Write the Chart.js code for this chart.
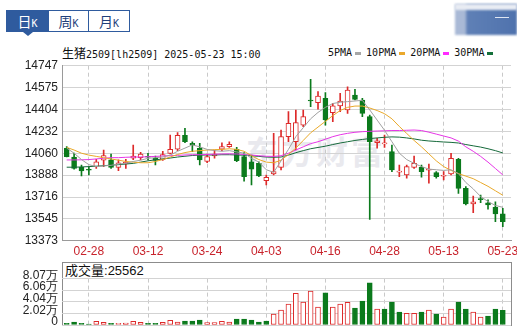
<!DOCTYPE html>
<html><head><meta charset="utf-8">
<script src="https://cdn.jsdelivr.net/npm/chart.js@4/dist/chart.umd.min.js"></script>
<style>
html,body{margin:0;padding:0;background:#fff;}
body{width:517px;height:332px;position:relative;overflow:hidden;font-family:"Liberation Sans",Arial,sans-serif;}
.abs{position:absolute;}
.tab{position:absolute;top:10px;height:20px;border:1px solid #2f5b9e;box-sizing:content-box;text-align:center;line-height:20px;color:#1f3f7a;}
.tab .c{font-family:"Noto Sans CJK SC",sans-serif;font-size:14px;}
.tab .k{font-family:"DejaVu Sans Mono",monospace;font-size:10px;}
.mono{font-family:"DejaVu Sans Mono","Liberation Mono",monospace;font-size:10px;color:#111;}
.cjk{font-family:"Noto Sans CJK SC",sans-serif;font-size:12px;}
.sw{display:inline-block;width:6px;height:3px;vertical-align:middle;margin:0 5px 0 3px;}
canvas{position:absolute;left:0;}
</style></head><body>

<div class="tab" style="left:6px;width:41px;background:#2f5b9e;color:#fff;"><span class="c">日</span><span class="k">K</span></div>
<div class="tab" style="left:48px;width:39px;"><span class="c">周</span><span class="k">K</span></div>
<div class="tab" style="left:88px;width:40px;"><span class="c">月</span><span class="k">K</span></div>
<div class="abs" style="left:23px;top:32px;width:0;height:0;border-left:5px solid transparent;border-right:5px solid transparent;border-top:4px solid #2f5b9e;"></div>

<div class="abs" style="left:455px;top:4px;width:62px;height:31px;filter:blur(1px);background:linear-gradient(90deg,#a9b9d6 0%,#a9b9d6 16%,#5f80b6 20%,#4f72ad 100%);"></div>
<div class="abs" style="left:455px;top:4px;width:62px;height:6px;background:#e8ecf3;filter:blur(1px);"></div>
<div class="abs" style="left:495px;top:17px;width:14px;height:1px;background:#dfe6f2;"></div>

<div class="abs mono" style="left:62px;top:46px;line-height:13px;white-space:nowrap;"><span class="cjk">生猪</span>2509[lh2509] 2025-05-23 15:00</div>
<div class="abs mono" style="left:328px;top:46px;line-height:13px;white-space:nowrap;">5PMA<span class="sw" style="background:#a6a6a6"></span>10PMA<span class="sw" style="background:#eaa82c"></span>20PMA<span class="sw" style="background:#ff2bff"></span>30PMA<span class="sw" style="background:#14703a"></span></div>

<div class="abs" style="left:246px;top:127px;font-family:'Noto Sans CJK SC',sans-serif;font-weight:bold;font-size:32px;letter-spacing:3px;color:#e9e9ee;white-space:nowrap;">东方财富</div>

<div class="abs" style="left:62px;top:262px;width:448px;height:62px;border:1px solid #8c8c8c;"></div>
<div class="abs" style="left:62px;top:278px;width:449px;height:1px;background:#8c8c8c;"></div>
<div class="abs" style="left:65px;top:262px;line-height:16px;font-size:13px;color:#111;white-space:nowrap;"><span style="font-family:'Noto Sans CJK SC',sans-serif;">成交量</span>:25562</div>

<canvas id="main" width="517" height="260" style="top:0;"></canvas>
<canvas id="vol" width="517" height="77" style="top:255px;"></canvas>

<script>
// ---- data ----
const dates = ['02-25','02-26','02-27','02-28','03-03','03-04','03-05','03-06','03-07','03-10','03-11','03-12','03-13','03-14','03-17','03-18','03-19','03-20','03-21','03-24','03-25','03-26','03-27','03-28','03-31','04-01','04-02','04-03','04-07','04-08','04-09','04-10','04-11','04-14','04-15','04-16','04-17','04-18','04-21','04-22','04-23','04-24','04-25','04-28','04-29','04-30','05-06','05-07','05-08','05-09','05-12','05-13','05-14','05-15','05-16','05-19','05-20','05-21','05-22','05-23'];
const xTickLabels = ['02-28','03-12','03-24','04-03','04-16','04-28','05-13','05-23'];
const yTicks = [13373,13545,13716,13888,14060,14232,14404,14575,14747];
const volTicks = [0,20200,40400,60600,80700];
const volTickLabels = ['0','2.02万','4.04万','6.06万','8.07万'];

const open  = [14099,14030,13949,13930,13954,14005,14007,13949,13975,14020,14025,14033,14020,14012,14059,14091,14201,14138,14099,13995,14038,14091,14111,14091,14033,13993,13981,13844,13897,13949,14190,14150,14281,14475,14456,14491,14378,14431,14399,14517,14478,14347,14142,14132,14072,13912,13889,13949,13949,13926,13907,13879,13897,14012,13784,13661,13700,13671,13635,13583];
const high  = [14111,14060,13967,13954,14012,14085,14054,14007,14012,14124,14067,14059,14038,14075,14203,14221,14255,14150,14138,14054,14085,14142,14150,14106,14064,14046,13993,13889,14216,14242,14386,14399,14399,14640,14543,14535,14452,14530,14582,14562,14491,14360,14177,14203,14124,13967,13967,14038,13967,13975,13915,13915,14059,14020,13797,13724,13732,13693,13679,13627];
const low   = [14030,13934,13881,13889,13941,13954,13941,13923,13941,14010,14007,14007,13967,14004,14054,14080,14142,14072,13967,13985,14020,14080,14106,13993,13840,13810,13875,13810,13889,13928,14150,14085,14268,14425,14405,14281,14307,14386,14373,14478,14347,13541,14099,14106,13915,13875,13863,13941,13871,13824,13863,13850,13889,13745,13653,13593,13671,13620,13522,13483];
const close = [14033,13940,13920,13926,13993,14042,13949,13985,13991,14038,14054,14028,14003,14050,14091,14201,14150,14124,14007,14033,14054,14111,14130,14001,13875,13934,13881,13871,13915,14190,14295,14300,14347,14470,14509,14321,14431,14470,14556,14483,14373,14150,14158,14142,13928,13915,13954,13981,13915,13930,13875,13883,14020,13784,13661,13679,13696,13653,13583,13522];

const ma5  = [14100,14060,14010,13970,13955,13960,13965,13975,13980,13995,14005,14020,14025,14030,14045,14075,14100,14125,14110,14090,14080,14075,14080,14070,14060,14020,13990,13930,13910,14000,14090,14190,14260,14330,14380,14420,14450,14460,14465,14470,14475,14400,14320,14240,14150,14060,14010,13980,13955,13935,13930,13925,13930,13900,13830,13780,13720,13680,13650,13635];
const ma10 = [14106,14085,14060,14045,14035,14025,14015,14005,13995,13990,13985,13985,13995,14010,14030,14050,14065,14075,14080,14085,14088,14090,14095,14090,14075,14040,14010,13990,13985,14005,14050,14100,14160,14220,14265,14310,14355,14395,14420,14430,14430,14415,14395,14370,14330,14270,14215,14160,14110,14055,14000,13955,13925,13900,13880,13860,13830,13800,13765,13730];
const ma20 = [14007,14007,14008,14010,14015,14020,14025,14025,14028,14030,14030,14032,14035,14038,14040,14043,14046,14048,14048,14050,14052,14054,14055,14054,14050,14046,14040,14036,14035,14040,14060,14085,14110,14135,14150,14170,14190,14205,14216,14224,14229,14232,14234,14236,14238,14238,14240,14242,14238,14225,14210,14195,14180,14155,14110,14075,14035,13990,13940,13890];
const ma30 = [13950,13950,13952,13955,13958,13962,13966,13970,13975,13980,13990,14000,14008,14015,14022,14030,14036,14042,14045,14046,14046,14048,14048,14046,14044,14040,14035,14030,14028,14030,14045,14064,14080,14095,14105,14115,14128,14140,14150,14160,14168,14175,14180,14185,14188,14186,14180,14172,14162,14156,14152,14148,14145,14140,14128,14118,14108,14095,14080,14062];

const volume = [2960,5220,2960,1740,6440,4700,2960,2960,3480,6440,4700,2960,2960,4700,8180,5220,6960,6960,8700,4000,4000,6440,5220,10450,10450,8700,5220,6960,18800,26100,36200,55200,39700,58800,31000,56000,31000,36200,39500,29600,41800,73500,27500,27500,40000,22600,20400,20400,22600,26100,19150,13600,27500,40000,27900,22300,13600,15700,27900,25562];
const volUp  = [0,0,0,0,1,1,0,1,1,1,1,0,0,1,1,1,0,0,0,1,1,1,1,0,0,0,0,0,1,1,1,1,1,1,1,0,1,1,1,0,0,0,1,0,0,0,1,1,0,1,0,1,1,0,0,1,1,0,0,0];

// ---- styling ----
const RED = '#dd2a2a', GREEN = '#0b7a1c';
const XMIN = 0.364, XMAX = 61.11;
const pos = dates.map((d, i) => i + 1);
const up = pos.map((p, i) => close[i] >= open[i]);
const lineDs = (arr, color) => ({type:'line', data: pos.map((x,i)=>({x, y: arr[i]})), borderColor: color, borderWidth: 1, pointRadius: 0, tension: 0, order: 0});
const xTickValues = xTickLabels.map(l => dates.indexOf(l) + 1);

new Chart(document.getElementById('main'), {
  type: 'bar',
  data: { datasets: [
    { data: pos.map((x,i)=>({x, y:[low[i], high[i]]})), backgroundColor: up.map(u=>u?RED:GREEN), borderWidth: 0, barThickness: 1, grouped: false, order: 3 },
    { data: pos.map((x,i)=>({x, y:[open[i], close[i]]})), backgroundColor: up.map(u=>u?'#ffffff':GREEN), borderColor: up.map(u=>u?RED:GREEN), borderWidth: 1, borderSkipped: false, barThickness: 5, minBarLength: 1, grouped: false, order: 2 },
    lineDs(ma5, '#a0a0a0'), lineDs(ma10, '#e9a92a'), lineDs(ma20, '#e635e6'), lineDs(ma30, '#15693a')
  ]},
  options: {
    responsive: false, animation: false, events: [],
    layout: { padding: { top: 65.7, right: 6, left: 0, bottom: 0 } },
    plugins: { legend: { display: false }, tooltip: { enabled: false } },
    scales: {
      x: { type: 'linear', min: XMIN, max: XMAX, offset: false,
        afterBuildTicks: s => { s.ticks = xTickValues.map(v => ({value: v})); },
        afterFit: s => { s.height = 19.3; s.paddingLeft = 0; s.paddingRight = 0; },
        ticks: { color: '#c8232c', font: { size: 12, family: 'Liberation Sans' }, padding: 4, maxRotation: 0, autoSkip: false, callback: v => dates[v - 1] },
        grid: { color: '#c9c9c9', drawTicks: false, offset: false },
        border: { color: '#9a9a9a', dash: [4, 3] } },
      y: { min: yTicks[0], max: yTicks[yTicks.length - 1],
        afterBuildTicks: s => { s.ticks = yTicks.map(v => ({value: v})); },
        afterFit: s => { s.width = 62; s.paddingTop = 0; s.paddingBottom = 0; },
        ticks: { color: '#222', font: { size: 12, family: 'Liberation Sans' }, padding: 4, autoSkip: false, callback: v => String(v) },
        grid: { color: '#d3d3d3', drawTicks: false },
        border: { color: '#9a9a9a' } }
    }
  }
});

new Chart(document.getElementById('vol'), {
  type: 'bar',
  data: { datasets: [
    { data: pos.map((x,i)=>({x, y: volume[i]})), backgroundColor: volUp.map(u=>u?'#ffffff':GREEN), borderColor: volUp.map(u=>u?RED:GREEN), borderWidth: 1, borderSkipped: false, barThickness: 5, grouped: false }
  ]},
  options: {
    responsive: false, animation: false, events: [],
    layout: { padding: { top: 23.6, right: 6, left: 0, bottom: 0 } },
    plugins: { legend: { display: false }, tooltip: { enabled: false } },
    scales: {
      x: { type: 'linear', min: XMIN, max: XMAX, offset: false,
        afterBuildTicks: s => { s.ticks = xTickValues.map(v => ({value: v})); },
        afterFit: s => { s.height = 7; s.paddingLeft = 0; s.paddingRight = 0; },
        ticks: { display: false },
        grid: { color: '#c9c9c9', drawTicks: false, offset: false },
        border: { display: false, dash: [4, 3] } },
      y: { min: 0, max: volTicks[volTicks.length - 1],
        afterBuildTicks: s => { s.ticks = volTicks.map(v => ({value: v})); },
        afterFit: s => { s.width = 62; s.paddingTop = 0; s.paddingBottom = 0; },
        ticks: { color: '#222', font: { size: 12, family: 'Liberation Sans' }, padding: 4, labelOffset: -3, autoSkip: false, callback: (v) => volTickLabels[volTicks.indexOf(v)] },
        grid: { color: '#d3d3d3', drawTicks: false },
        border: { display: false } }
    }
  }
});
</script>
</body></html>
